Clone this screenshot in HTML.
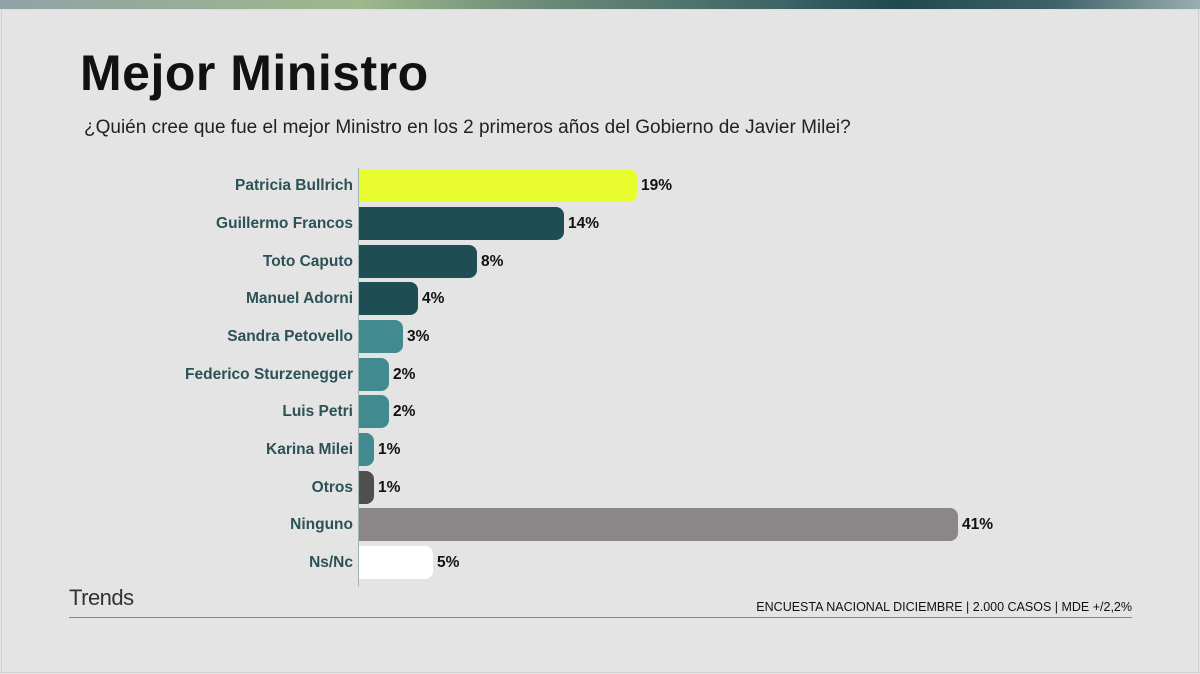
<!DOCTYPE html>
<html><head><meta charset="utf-8"><style>
html,body{margin:0;padding:0}
body{width:1200px;height:674px;background:#e4e4e4;position:relative;overflow:hidden;font-family:"Liberation Sans","DejaVu Sans",sans-serif}
.top{position:absolute;left:0;top:0;width:1200px;height:9px;background:linear-gradient(90deg,#8fa3a6 0%,#9db88c 30%,#6c8a78 45%,#3d6466 65%,#1f4a50 75%,#3f6268 88%,#9aaeb1 100%)}
.frame{position:absolute;left:1px;top:9px;width:1196px;height:662px;border:1px solid #cdd2d2;border-top:1px solid #d6e0e0}
h1{position:absolute;left:80px;top:44px;margin:0;font-size:50px;font-weight:bold;color:#111;letter-spacing:0.5px}
.sub{position:absolute;left:84px;top:117px;font-size:19px;color:#222}
.axis{position:absolute;left:358px;top:168px;width:1px;height:418px;background:#9fb4b6}
.lab{position:absolute;right:847px;font-size:15.5px;font-weight:bold;color:#2c5157;white-space:nowrap}
.bar{position:absolute;left:359px;height:33px;border-radius:0 8px 8px 0}
.val{position:absolute;font-size:15.5px;font-weight:bold;color:#111}
.trends{position:absolute;left:69px;top:585px;font-size:22px;color:#333;letter-spacing:-0.5px}
.foot{position:absolute;right:68px;top:600px;font-size:12.5px;color:#111}
.line{position:absolute;left:69px;top:617px;width:1063px;height:1px;background:#888}
</style></head><body>
<div class="top"></div><div class="frame"></div>
<h1>Mejor Ministro</h1>
<div class="sub">¿Quién cree que fue el mejor Ministro en los 2 primeros años del Gobierno de Javier Milei?</div>
<div class="axis"></div>

<div class="lab" style="top:177px">Patricia Bullrich</div><div class="bar" style="top:169px;width:278px;background:#e9fd2e"></div><div class="val" style="left:641px;top:177px">19%</div>
<div class="lab" style="top:215px">Guillermo Francos</div><div class="bar" style="top:207px;width:205px;background:#1f4d54"></div><div class="val" style="left:568px;top:215px">14%</div>
<div class="lab" style="top:253px">Toto Caputo</div><div class="bar" style="top:245px;width:118px;background:#1f4d54"></div><div class="val" style="left:481px;top:253px">8%</div>
<div class="lab" style="top:290px">Manuel Adorni</div><div class="bar" style="top:282px;width:59px;background:#1f4d54"></div><div class="val" style="left:422px;top:290px">4%</div>
<div class="lab" style="top:328px">Sandra Petovello</div><div class="bar" style="top:320px;width:44px;background:#418b90"></div><div class="val" style="left:407px;top:328px">3%</div>
<div class="lab" style="top:366px">Federico Sturzenegger</div><div class="bar" style="top:358px;width:30px;background:#418b90"></div><div class="val" style="left:393px;top:366px">2%</div>
<div class="lab" style="top:403px">Luis Petri</div><div class="bar" style="top:395px;width:30px;background:#418b90"></div><div class="val" style="left:393px;top:403px">2%</div>
<div class="lab" style="top:441px">Karina Milei</div><div class="bar" style="top:433px;width:15px;background:#418b90"></div><div class="val" style="left:378px;top:441px">1%</div>
<div class="lab" style="top:479px">Otros</div><div class="bar" style="top:471px;width:15px;background:#4f4f4f"></div><div class="val" style="left:378px;top:479px">1%</div>
<div class="lab" style="top:516px">Ninguno</div><div class="bar" style="top:508px;width:599px;background:#8b8687"></div><div class="val" style="left:962px;top:516px">41%</div>
<div class="lab" style="top:554px">Ns/Nc</div><div class="bar" style="top:546px;width:74px;background:#ffffff"></div><div class="val" style="left:437px;top:554px">5%</div>

<div class="trends">Trends</div>
<div class="foot">ENCUESTA NACIONAL DICIEMBRE | 2.000 CASOS | MDE +/2,2%</div>
<div class="line"></div>
</body></html>
